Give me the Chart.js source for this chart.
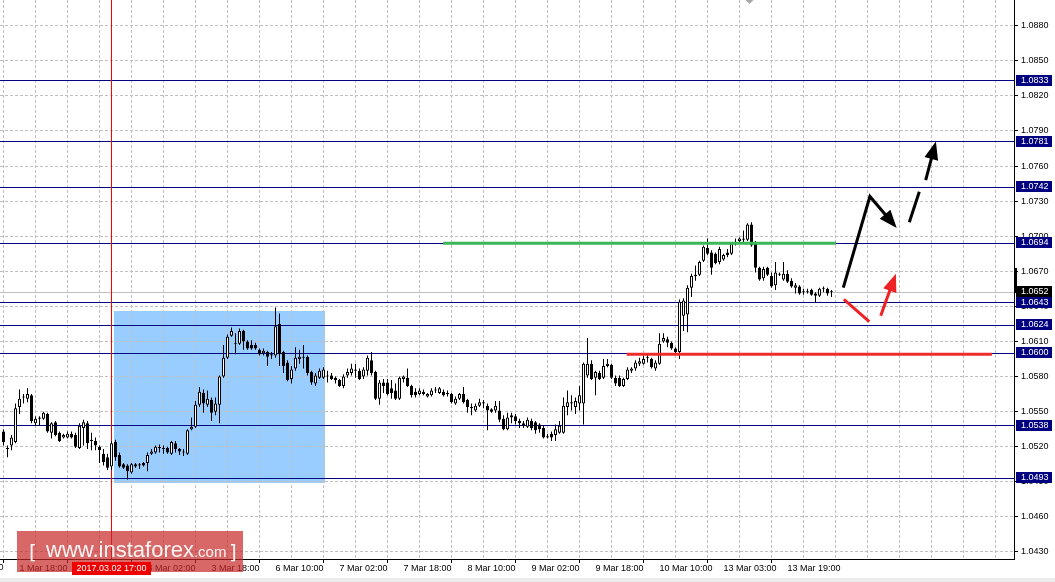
<!DOCTYPE html>
<html>
<head>
<meta charset="utf-8">
<script src="https://cdn.jsdelivr.net/npm/chart.js@4.4.1/dist/chart.umd.min.js"></script>
<style>
  html, body { margin: 0; padding: 0; background: #fff; }
  canvas { display: block; }
</style>
</head>
<body>
<canvas id="myChart" width="1055" height="582"></canvas>
<script>
// EURUSD H1, one value per bar (bar 0 = 1 Mar 14:00)
const opens = [
  1.0533,1.0519,1.0521,1.0524,1.0554,1.0562,1.0561,1.0564,1.0540,1.0544,
  1.0544,1.0548,1.0532,1.0541,1.0532,1.0528,1.0528,1.0531,1.0530,1.0519,
  1.0536,1.0540,1.0525,1.0525,1.0520,1.0514,1.0511,1.0503,1.0524,1.0513,
  1.0505,1.0504,1.0498,1.0505,1.0504,1.0506,1.0506,1.0514,1.0515,1.0519,
  1.0518,1.0519,1.0514,1.0523,1.0518,1.0515,1.0514,1.0535,1.0537,1.0556,
  1.0566,1.0556,1.0560,1.0550,1.0556,1.0580,1.0596,1.0615,1.0608,1.0608,
  1.0619,1.0610,1.0607,1.0607,1.0603,1.0600,1.0601,1.0598,1.0598,1.0625,
  1.0601,1.0592,1.0578,1.0587,1.0595,1.0597,1.0597,1.0584,1.0574,1.0579,
  1.0579,1.0580,1.0581,1.0579,1.0577,1.0572,1.0581,1.0583,1.0585,1.0585,
  1.0580,1.0585,1.0594,1.0584,1.0561,1.0575,1.0575,1.0570,1.0568,1.0561,
  1.0578,1.0579,1.0572,1.0567,1.0565,1.0567,1.0563,1.0564,1.0568,1.0566,
  1.0567,1.0565,1.0565,1.0557,1.0561,1.0565,1.0560,1.0554,1.0551,1.0555,
  1.0557,1.0555,1.0552,1.0551,1.0551,1.0544,1.0535,1.0547,1.0546,1.0542,
  1.0540,1.0537,1.0542,1.0541,1.0539,1.0536,1.0529,1.0531,1.0530,1.0532,
  1.0532,1.0554,1.0557,1.0554,1.0557,1.0557,1.0581,1.0591,1.0579,1.0583,
  1.0579,1.0589,1.0590,1.0579,1.0579,1.0572,1.0578,1.0585,1.0587,1.0591,
  1.0591,1.0596,1.0595,1.0587,1.0591,1.0610,1.0612,1.0609,1.0604,1.0601,
  1.0632,1.0633,1.0656,1.0667,1.0667,1.0679,1.0690,1.0686,1.0685,1.0678,
  1.0680,1.0686,1.0685,1.0695,1.0696,1.0697,1.0697,1.0710,1.0694,1.0673,
  1.0664,1.0673,1.0666,1.0658,1.0668,1.0663,1.0668,1.0662,1.0656,1.0657,
  1.0652,1.0653,1.0654,1.0651,1.0649,1.0655,1.0655,1.0653
];
const highs = [
  1.0535,1.0521,1.0530,1.0557,1.0569,1.0565,1.0570,1.0565,1.0546,1.0546,
  1.0550,1.0549,1.0541,1.0542,1.0533,1.0531,1.0533,1.0533,1.0532,1.0540,
  1.0543,1.0542,1.0532,1.0528,1.0521,1.0518,1.0514,1.0525,1.0526,1.0515,
  1.0506,1.0505,1.0506,1.0506,1.0506,1.0507,1.0515,1.0518,1.0521,1.0522,
  1.0521,1.0520,1.0525,1.0525,1.0519,1.0518,1.0535,1.0545,1.0559,1.0571,
  1.0569,1.0568,1.0562,1.0562,1.0581,1.0607,1.0616,1.0622,1.0617,1.0621,
  1.0620,1.0611,1.0611,1.0609,1.0604,1.0604,1.0602,1.0601,1.0639,1.0634,
  1.0602,1.0594,1.0589,1.0605,1.0603,1.0607,1.0598,1.0585,1.0583,1.0587,
  1.0588,1.0585,1.0583,1.0580,1.0578,1.0582,1.0587,1.0591,1.0591,1.0587,
  1.0588,1.0598,1.0601,1.0585,1.0577,1.0578,1.0578,1.0577,1.0574,1.0580,
  1.0581,1.0587,1.0573,1.0570,1.0570,1.0569,1.0566,1.0570,1.0571,1.0571,
  1.0569,1.0568,1.0566,1.0563,1.0566,1.0571,1.0561,1.0557,1.0557,1.0561,
  1.0560,1.0557,1.0553,1.0559,1.0559,1.0547,1.0549,1.0549,1.0548,1.0544,
  1.0542,1.0545,1.0544,1.0542,1.0540,1.0538,1.0531,1.0533,1.0539,1.0542,
  1.0562,1.0568,1.0564,1.0562,1.0572,1.0592,1.0613,1.0594,1.0585,1.0585,
  1.0595,1.0595,1.0591,1.0581,1.0581,1.0579,1.0588,1.0588,1.0594,1.0596,
  1.0598,1.0599,1.0596,1.0594,1.0617,1.0617,1.0614,1.0610,1.0605,1.0646,
  1.0647,1.0658,1.0668,1.0675,1.0679,1.0692,1.0698,1.0688,1.0686,1.0691,
  1.0685,1.0689,1.0695,1.0698,1.0699,1.0705,1.0711,1.0712,1.0696,1.0674,
  1.0674,1.0674,1.0669,1.0678,1.0669,1.0678,1.0671,1.0664,1.0660,1.0658,
  1.0655,1.0655,1.0655,1.0652,1.0656,1.0657,1.0656,1.0654
];
const lows = [
  1.0521,1.0511,1.0517,1.0523,1.0548,1.0557,1.0558,1.0540,1.0538,1.0538,
  1.0543,1.0532,1.0527,1.0529,1.0524,1.0527,1.0527,1.0527,1.0519,1.0518,
  1.0521,1.0518,1.0517,1.0517,1.0506,1.0504,1.0500,1.0500,1.0508,1.0502,
  1.0501,1.0492,1.0497,1.0502,1.0501,1.0503,1.0499,1.0513,1.0514,1.0515,
  1.0514,1.0514,1.0513,1.0515,1.0513,1.0512,1.0513,1.0534,1.0536,1.0554,
  1.0549,1.0554,1.0542,1.0547,1.0540,1.0579,1.0595,1.0614,1.0599,1.0607,
  1.0603,1.0603,1.0603,1.0603,1.0598,1.0598,1.0589,1.0595,1.0596,1.0589,
  1.0583,1.0576,1.0574,1.0585,1.0591,1.0587,1.0581,1.0573,1.0572,1.0578,
  1.0578,1.0575,1.0577,1.0574,1.0571,1.0570,1.0579,1.0581,1.0579,1.0577,
  1.0578,1.0581,1.0581,1.0560,1.0556,1.0566,1.0564,1.0561,1.0560,1.0560,
  1.0575,1.0571,1.0562,1.0562,1.0564,1.0564,1.0562,1.0563,1.0566,1.0565,
  1.0563,1.0563,1.0557,1.0556,1.0560,1.0557,1.0549,1.0547,1.0550,1.0554,
  1.0553,1.0534,1.0549,1.0549,1.0541,1.0534,1.0534,1.0540,1.0539,1.0536,
  1.0536,1.0536,1.0534,1.0531,1.0532,1.0527,1.0527,1.0525,1.0525,1.0531,
  1.0531,1.0547,1.0551,1.0548,1.0551,1.0539,1.0579,1.0577,1.0564,1.0577,
  1.0578,1.0588,1.0578,1.0572,1.0571,1.0571,1.0577,1.0583,1.0585,1.0589,
  1.0590,1.0592,1.0587,1.0585,1.0590,1.0609,1.0605,1.0603,1.0600,1.0595,
  1.0619,1.0618,1.0648,1.0662,1.0666,1.0678,1.0684,1.0667,1.0676,1.0676,
  1.0679,1.0682,1.0684,1.0692,1.0695,1.0695,1.0696,1.0691,1.0669,1.0662,
  1.0662,1.0666,1.0656,1.0654,1.0666,1.0662,1.0660,1.0656,1.0651,1.0650,
  1.0650,1.0651,1.0649,1.0643,1.0648,1.0652,1.0649,1.0648
];
const closes = [
  1.0524,1.0518,1.0528,1.0553,1.0561,1.0563,1.0565,1.0542,1.0544,1.0545,
  1.0549,1.0533,1.0540,1.0530,1.0525,1.0530,1.0531,1.0528,1.0520,1.0538,
  1.0541,1.0523,1.0526,1.0521,1.0517,1.0507,1.0502,1.0523,1.0511,1.0503,
  1.0502,1.0499,1.0505,1.0503,1.0505,1.0504,1.0513,1.0516,1.0520,1.0519,
  1.0518,1.0515,1.0524,1.0518,1.0516,1.0515,1.0534,1.0537,1.0556,1.0567,
  1.0557,1.0561,1.0549,1.0557,1.0580,1.0596,1.0614,1.0619,1.0609,1.0619,
  1.0610,1.0604,1.0604,1.0604,1.0599,1.0602,1.0597,1.0599,1.0623,1.0599,
  1.0589,1.0577,1.0586,1.0596,1.0597,1.0596,1.0583,1.0575,1.0581,1.0585,
  1.0586,1.0581,1.0578,1.0577,1.0572,1.0580,1.0584,1.0587,1.0586,1.0578,
  1.0586,1.0596,1.0583,1.0561,1.0575,1.0572,1.0565,1.0566,1.0561,1.0579,
  1.0580,1.0572,1.0564,1.0564,1.0568,1.0565,1.0565,1.0568,1.0569,1.0570,
  1.0564,1.0566,1.0558,1.0561,1.0565,1.0558,1.0554,1.0553,1.0555,1.0558,
  1.0558,1.0551,1.0550,1.0555,1.0543,1.0535,1.0545,1.0545,1.0542,1.0540,
  1.0538,1.0543,1.0536,1.0534,1.0535,1.0528,1.0528,1.0528,1.0535,1.0538,
  1.0555,1.0558,1.0558,1.0559,1.0564,1.0591,1.0591,1.0578,1.0584,1.0578,
  1.0589,1.0591,1.0579,1.0574,1.0572,1.0578,1.0586,1.0587,1.0592,1.0593,
  1.0595,1.0597,1.0588,1.0592,1.0608,1.0613,1.0609,1.0604,1.0601,1.0644,
  1.0645,1.0656,1.0666,1.0666,1.0678,1.0691,1.0685,1.0673,1.0677,1.0689,
  1.0684,1.0684,1.0694,1.0694,1.0698,1.0698,1.0710,1.0692,1.0673,1.0663,
  1.0672,1.0667,1.0657,1.0669,1.0667,1.0668,1.0661,1.0657,1.0658,1.0651,
  1.0653,1.0652,1.0650,1.0649,1.0655,1.0656,1.0651,1.0652
];

// axes
const tickBars = [4, 20, 36, 52, 68, 84, 100, 116, 132, 148, 164, 180, 196];
const tickLabels = ['1 Mar 18:00', '2 Mar 10:00', '3 Mar 02:00', '3 Mar 18:00', '6 Mar 10:00', '7 Mar 02:00',
  '7 Mar 18:00', '8 Mar 10:00', '9 Mar 02:00', '9 Mar 18:00', '10 Mar 10:00', '13 Mar 03:00', '13 Mar 19:00'];
const priceTicks = [1.0430, 1.0460, 1.0490, 1.0520, 1.0550, 1.0580, 1.0610, 1.0640,
  1.0670, 1.0700, 1.0730, 1.0760, 1.0790, 1.0820, 1.0850, 1.0880];

// drawn objects
const levelPrices = [1.0833, 1.0781, 1.0742, 1.0694, 1.0643, 1.0624, 1.0600, 1.0538, 1.0493];
const lastPrice = 1.0652;
const cursorBar = 27;
const cursorLabel = '2017.03.02 17:00';
const zoneBars = [27.6, 80.4];
const zonePrices = [1.0636, 1.0489];
const greenBars = [109.9, 208.1];
const greenPrice = 1.0694;
const redBars = [155.8, 247.1];
const redPrice = 1.0599;
const blackPath = [[209.95, 1.0656], [216.6, 1.0734], [223.3, 1.0707]];
const blackDash = [[226.45, 1.0712], [228.95, 1.0738]];
const blackArrow = [[230.55, 1.0748], [233.1, 1.0781]];
const redPath = [[210.1, 1.0646], [216.45, 1.0627]];
const redArrow = [[219.3, 1.0632], [223.1, 1.0668]];

const gridBars = [];
for (let b = 4; b <= 252; b += 8) gridBars.push(b);

const FONT = '"Liberation Sans", Arial, sans-serif';

function hline(ctx, a, py, color) {
    ctx.fillStyle = color;
    ctx.fillRect(a.left, Math.floor(py), a.right - a.left + 1, 1);
}

function drawPath(ctx, x, y, pts, color, head) {
    const p = pts.map(q => [x.getPixelForValue(q[0]), y.getPixelForValue(q[1])]);
    const L = 18, W = 7;
    let end = p[p.length - 1];
    const prev = p[p.length - 2];
    const ang = Math.atan2(end[1] - prev[1], end[0] - prev[0]);
    ctx.strokeStyle = color;
    ctx.lineWidth = 3;
    ctx.lineJoin = 'miter';
    ctx.beginPath();
    p.forEach((q, i) => {
        let qx = q[0], qy = q[1];
        if (head && i === p.length - 1) {
            qx -= L * 0.6 * Math.cos(ang);
            qy -= L * 0.6 * Math.sin(ang);
        }
        if (i) ctx.lineTo(qx, qy); else ctx.moveTo(qx, qy);
    });
    ctx.stroke();
    if (head) {
        ctx.fillStyle = color;
        ctx.beginPath();
        ctx.moveTo(end[0], end[1]);
        ctx.lineTo(end[0] - L * Math.cos(ang) + W * Math.sin(ang), end[1] - L * Math.sin(ang) - W * Math.cos(ang));
        ctx.lineTo(end[0] - L * Math.cos(ang) - W * Math.sin(ang), end[1] - L * Math.sin(ang) + W * Math.cos(ang));
        ctx.closePath();
        ctx.fill();
    }
}

function priceBox(ctx, y, price, bg) {
    const py = y.getPixelForValue(price);
    ctx.fillStyle = bg;
    ctx.fillRect(1016, Math.round(py) - 6, 36, 11);
    ctx.fillStyle = '#fff';
    ctx.font = '9px ' + FONT;
    ctx.textAlign = 'left';
    ctx.textBaseline = 'middle';
    ctx.fillText(price.toFixed(4), 1021, Math.round(py) - 0.5);
}

const mt4Plugin = {
    id: 'mt4',
    beforeDraw(chart) {
        const {ctx, scales: {x, y}} = chart;
        ctx.save();
        ctx.fillStyle = '#fff';
        ctx.fillRect(0, 0, chart.width, chart.height);
        ctx.fillStyle = '#ececec';
        ctx.fillRect(0, 578, chart.width, chart.height - 578);
        // rectangle zone
        const x0 = x.getPixelForValue(zoneBars[0]), x1 = x.getPixelForValue(zoneBars[1]);
        const y0 = y.getPixelForValue(zonePrices[0]), y1 = y.getPixelForValue(zonePrices[1]);
        ctx.fillStyle = '#99ccff';
        ctx.fillRect(Math.round(x0), Math.round(y0), Math.round(x1 - x0), Math.round(y1 - y0));
        ctx.restore();
    },
    beforeDatasetsDraw(chart) {
        const {ctx, chartArea: a, scales: {x, y}} = chart;
        ctx.save();
        hline(ctx, a, y.getPixelForValue(lastPrice), '#c0c0c0');
        levelPrices.forEach(p => hline(ctx, a, y.getPixelForValue(p), '#000080'));
        ctx.fillStyle = '#ff0000';
        ctx.fillRect(Math.floor(x.getPixelForValue(cursorBar)), a.top, 1, a.bottom - a.top);
        ctx.restore();
    },
    afterDatasetsDraw(chart) {
        const {ctx, scales: {x, y}} = chart;
        ctx.save();
        ctx.lineCap = 'butt';
        // trend levels
        ctx.lineWidth = 3;
        ctx.strokeStyle = '#3db55a';
        ctx.beginPath();
        ctx.moveTo(x.getPixelForValue(greenBars[0]), y.getPixelForValue(greenPrice));
        ctx.lineTo(x.getPixelForValue(greenBars[1]), y.getPixelForValue(greenPrice));
        ctx.stroke();
        ctx.strokeStyle = '#ee2c2c';
        ctx.beginPath();
        ctx.moveTo(x.getPixelForValue(redBars[0]), y.getPixelForValue(redPrice));
        ctx.lineTo(x.getPixelForValue(redBars[1]), y.getPixelForValue(redPrice));
        ctx.stroke();
        // forecast arrows
        drawPath(ctx, x, y, blackPath, '#000', true);
        drawPath(ctx, x, y, blackDash, '#000', false);
        drawPath(ctx, x, y, blackArrow, '#000', true);
        drawPath(ctx, x, y, redPath, '#ee2222', false);
        drawPath(ctx, x, y, redArrow, '#ee2222', true);
        ctx.restore();
    },
    afterDraw(chart) {
        const {ctx, scales: {x, y}} = chart;
        ctx.save();
        // price labels on the right scale
        levelPrices.forEach(p => priceBox(ctx, y, p, '#000080'));
        priceBox(ctx, y, lastPrice, '#000');
        ctx.fillStyle = '#000';
        const t0 = y.getPixelForValue(1.0673), t1 = y.getPixelForValue(lastPrice);
        ctx.fillRect(1014, Math.round(t0), 3, Math.round(t1 - t0));
        // chart shift marker
        ctx.fillStyle = '#a8a8a8';
        ctx.beginPath();
        ctx.moveTo(745.5, 0); ctx.lineTo(753.5, 0); ctx.lineTo(749.5, 4); ctx.closePath();
        ctx.fill();
        // cut off label at the left edge
        ctx.fillStyle = '#000';
        ctx.font = '9px ' + FONT;
        ctx.textAlign = 'left';
        ctx.textBaseline = 'middle';
        ctx.fillText('1 Mar 02:00', x.getPixelForValue(-12), 568);
        // watermark
        ctx.fillStyle = 'rgba(200, 40, 40, 0.7)';
        ctx.fillRect(17, 531, 226, 41);
        ctx.fillStyle = 'rgba(255, 255, 255, 0.92)';
        ctx.textBaseline = 'alphabetic';
        ctx.font = '20px "DejaVu Sans", sans-serif';
        ctx.fillText('[', 29, 559);
        ctx.fillText(']', 229, 559);
        ctx.font = '22px ' + FONT;
        ctx.fillText('www.instaforex', 46, 557);
        const w = ctx.measureText('www.instaforex').width;
        ctx.font = '15px ' + FONT;
        ctx.fillText('.com', 46 + w, 557);
        // crosshair time label
        const cx = Math.floor(x.getPixelForValue(cursorBar)) + 0.5;
        ctx.fillStyle = '#ee0000';
        ctx.fillRect(Math.round(cx - 39.5), 562, 79, 13);
        ctx.fillStyle = '#fff';
        ctx.font = '9px ' + FONT;
        ctx.textAlign = 'center';
        ctx.textBaseline = 'middle';
        ctx.fillText(cursorLabel, cx, 568.5);
        ctx.restore();
    }
};

const ctx = document.getElementById('myChart').getContext('2d');
new Chart(ctx, {
    type: 'bar',
    data: {
        datasets: [
            {
                label: 'body',
                data: opens.map((o, i) => ({x: i, y: [o, closes[i]]})),
                backgroundColor: opens.map((o, i) => closes[i] >= o ? '#ffffff' : '#000000'),
                borderColor: '#000',
                borderWidth: 1,
                borderSkipped: false,
                minBarLength: 1,
                inflateAmount: 0,
                grouped: false,
                categoryPercentage: 1,
                barPercentage: 1,
                maxBarThickness: 3,
                order: 1
            },
            {
                label: 'wick',
                data: lows.map((l, i) => ({x: i, y: [l, highs[i]]})),
                backgroundColor: '#000',
                borderWidth: 0,
                inflateAmount: 0,
                grouped: false,
                categoryPercentage: 1,
                barPercentage: 1,
                maxBarThickness: 1,
                order: 2
            }
        ]
    },
    options: {
        responsive: false,
        devicePixelRatio: 1,
        animation: false,
        events: [],
        layout: { padding: 0 },
        plugins: {
            legend: { display: false },
            tooltip: { enabled: false }
        },
        scales: {
            x: {
                type: 'linear',
                min: -0.875,
                max: 252.625,
                offset: false,
                grid: {
                    color: '#c0c0c0',
                    tickLength: 4,
                    tickColor: c => (c.tick && tickBars.includes(c.tick.value)) ? '#000' : 'rgba(0,0,0,0)'
                },
                border: { color: '#000', dash: [3, 2] },
                ticks: {
                    autoSkip: false,
                    maxRotation: 0,
                    align: 'start',
                    padding: 0,
                    color: '#000',
                    font: { family: FONT, size: 9 },
                    callback: v => {
                        const k = tickBars.indexOf(v);
                        return k >= 0 ? tickLabels[k] : '';
                    }
                },
                afterBuildTicks: s => { s.ticks = gridBars.map(v => ({value: v})); },
                afterFit: s => { s.height = 23; s.paddingLeft = 0; s.paddingRight = 0; }
            },
            y: {
                type: 'linear',
                position: 'right',
                min: 1.0424,
                max: 1.0902,
                grid: { color: '#c0c0c0', tickLength: 4, tickColor: '#000' },
                border: { color: '#000', dash: [3, 2] },
                ticks: {
                    padding: 3,
                    color: '#000',
                    font: { family: FONT, size: 9 },
                    callback: v => Number(v).toFixed(4)
                },
                afterBuildTicks: s => { s.ticks = priceTicks.map(v => ({value: v})); },
                afterFit: s => { s.width = 41; s.paddingTop = 0; s.paddingBottom = 0; }
            }
        }
    },
    plugins: [mt4Plugin]
});
</script>
</body>
</html>
